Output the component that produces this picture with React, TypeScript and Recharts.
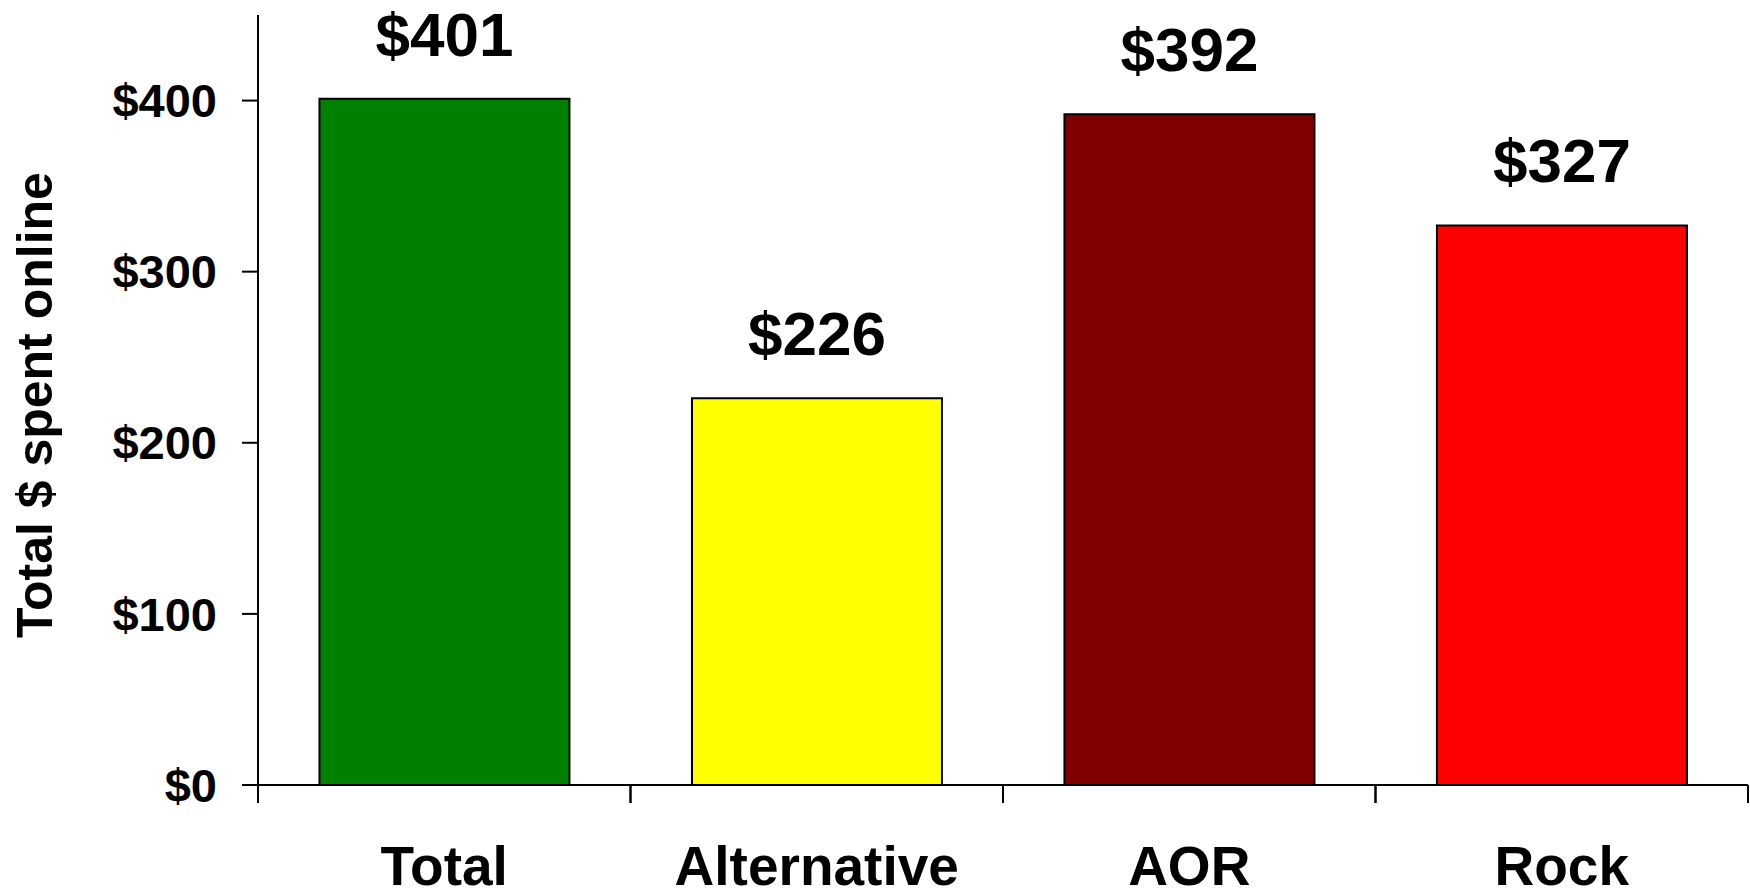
import React from "react";
import { BarChart, Bar, XAxis, YAxis, Cell, LabelList, Label } from "recharts";

const categories = ["Total", "Alternative", "AOR", "Rock"];
const spentValues = [401, 226, 392, 327];
const barColors = ["#008000", "#FFFF00", "#800000", "#FF0000"];
const yTicks = [0, 100, 200, 300, 400];

const data = categories.map((name, i) => ({ name, spent: spentValues[i] }));

const FONT = '"Liberation Sans", Arial, Helvetica, sans-serif';
const money = (v: number) => `$${v}`;

const PLOT_LEFT = 258;
const PLOT_RIGHT_MARGIN = 2;
const CHART_W = 1750;
const CHART_H = 892;

// Category tick: label centred under the bar, tick marks on the band edges.
const CategoryTick = (props: any) => {
  const { x, y, payload } = props;
  const half =
    payload && payload.offset
      ? payload.offset
      : (CHART_W - PLOT_LEFT - PLOT_RIGHT_MARGIN) / categories.length / 2;
  return (
    <g>
      <line x1={x - half} y1={y} x2={x - half} y2={y + 18} stroke="#000" strokeWidth={2} />
      <line x1={x + half} y1={y} x2={x + half} y2={y + 18} stroke="#000" strokeWidth={2} />
      <text
        x={x}
        y={y + 100}
        textAnchor="middle"
        fontFamily={FONT}
        fontWeight="bold"
        fontSize={55}
        fill="#000"
      >
        {payload.value}
      </text>
    </g>
  );
};

const YTitle = (props: any) => {
  const vb = props.viewBox || {};
  const cy = (vb.y ?? 15) + (vb.height ?? 770) / 2 + 5;
  const bx = 52;
  return (
    <text
      x={bx}
      y={cy}
      transform={`rotate(-90, ${bx}, ${cy})`}
      textAnchor="middle"
      fontFamily={FONT}
      fontWeight="bold"
      fontSize={50}
      fill="#000"
    >
      Total $ spent online
    </text>
  );
};

export default function App() {
  return (
    <div style={{ position: "fixed", left: 0, top: 0, background: "#fff" }}>
      <BarChart
        width={CHART_W}
        height={CHART_H}
        data={data}
        margin={{ top: 15, right: PLOT_RIGHT_MARGIN, bottom: 0, left: 0 }}
        barCategoryGap="16.5%"
      >
        <XAxis
          dataKey="name"
          height={107}
          axisLine={{ stroke: "#000", strokeWidth: 2 }}
          tickLine={false}
          tickSize={0}
          tickMargin={0}
          tick={<CategoryTick />}
          interval={0}
        />
        <YAxis
          width={PLOT_LEFT}
          domain={[0, 450]}
          ticks={yTicks}
          tickFormatter={money}
          axisLine={{ stroke: "#000", strokeWidth: 2 }}
          tickLine={{ stroke: "#000", strokeWidth: 2 }}
          tickSize={16}
          tickMargin={25}
          tick={{ fill: "#000", fontFamily: FONT, fontWeight: "bold", fontSize: 47 }}
          allowDataOverflow
        >
          <Label content={<YTitle />} />
        </YAxis>
        <Bar dataKey="spent" stroke="#000" strokeWidth={2} isAnimationActive={false}>
          {data.map((d, i) => (
            <Cell key={d.name} fill={barColors[i]} />
          ))}
          <LabelList
            dataKey="spent"
            position="top"
            offset={43}
            formatter={(v: any) => money(v)}
            style={{ fill: "#000", fontFamily: FONT, fontWeight: "bold", fontSize: 62 }}
          />
        </Bar>
      </BarChart>
    </div>
  );
}
